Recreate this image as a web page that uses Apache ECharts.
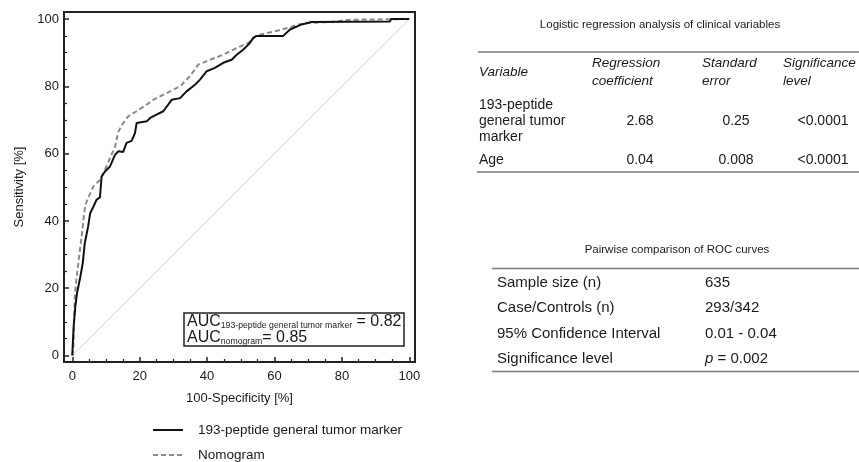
<!DOCTYPE html>
<html>
<head>
<meta charset="utf-8">
<script src="https://cdn.jsdelivr.net/npm/echarts@6/dist/echarts.min.js"></script>
<style>
  html, body { margin: 0; padding: 0; background: #fff; }
  #main { width: 859px; height: 462px; }
</style>
</head>
<body>
<div id="main"></div>
<script>
  // ROC 曲线数据 [100-Specificity, Sensitivity]
  const markerName = '193-peptide general tumor marker';
  const nomogramName = 'Nomogram';
  const markerCurve = [
    [0, 0], [0.3, 0], [0.4, 8.6], [0.9, 14.5], [1.4, 18.5], [2.4, 23.5], [3.1, 27.4],
    [3.7, 33.4], [4.7, 38.3], [5.3, 42.3], [6.3, 44.3], [7.2, 46.3], [8.2, 47], [8.7, 53.2],
    [9.7, 54.7], [11.2, 56.2], [12.7, 59.7], [13.7, 60.7], [15.1, 60.5], [16.1, 63.2],
    [17.6, 63.8], [18.6, 66.1], [19.1, 69.1], [22.1, 69.6], [23.1, 70.6], [25, 71.6],
    [27, 72.6], [29.5, 76], [32, 76.5], [33.9, 78.5], [36.4, 80.5], [37.9, 82], [39.9, 84.5],
    [42.3, 85.5], [44.8, 87], [47.3, 87.9], [48.8, 89.4], [50.7, 90.9], [52.7, 92.9],
    [53.7, 94.4], [54.7, 95], [62.6, 95], [64.6, 96.9], [68.1, 98.4], [71, 99.1],
    [94.3, 99.3], [94.6, 100], [100, 100]
  ];
  const nomogramCurve = [
    [0, 0], [0.3, 1.7], [0.7, 16.5], [1.1, 21.5], [1.9, 28.4], [2.9, 36.4], [3.4, 41.3],
    [3.9, 44.8], [4.5, 46.3], [6.2, 50.2], [8.2, 52.2], [9.7, 55.2], [11.2, 58.7],
    [12.7, 62.1], [13.7, 66.6], [15.1, 69.1], [16.6, 71.1], [19.1, 72.6], [22.1, 74.6],
    [24, 76], [28, 78], [32, 80], [34.9, 83], [37.4, 86.5], [40.9, 87.9], [44.8, 89.4],
    [48.8, 91.4], [52.2, 92.9], [54.7, 95.2], [59.6, 96.2], [64.1, 97.4], [67.1, 98.4],
    [70.5, 98.9], [76.5, 99.1], [82.4, 99.8], [100, 100]
  ];
  const diagonal = [[0, 0], [100, 100]];
  const majorTicks = [0, 20, 40, 60, 80, 100];
  const minorTicks = [5, 10, 15, 25, 30, 35, 45, 50, 55, 65, 70, 75, 85, 90, 95];
  const aucMarker = '0.82';
  const aucNomogram = '0.85';

  // 右侧表格
  const regressionTitle = 'Logistic regression analysis of clinical variables';
  const regressionHeader = ['Variable', 'Regression\ncoefficient', 'Standard\nerror', 'Significance\nlevel'];
  const regressionVariables = ['193-peptide\ngeneral tumor\nmarker', 'Age'];
  const regressionCoef = ['2.68', '0.04'];
  const regressionSE = ['0.25', '0.008'];
  const regressionSig = ['<0.0001', '<0.0001'];

  const pairwiseTitle = 'Pairwise comparison of ROC curves';
  const pairwiseLabels = ['Sample size (n)', 'Case/Controls (n)', '95% Confidence Interval', 'Significance level'];
  const pairwiseValues = ['635', '293/342', '0.01 - 0.04', '{i|p} = 0.002'];

  const font = 'Liberation Sans, Arial, sans-serif';
  const ink = '#1a1a1a';
  const rule = '#7a7a7a';

  function txt(x, y, text, opt) {
    opt = opt || {};
    return {
      type: 'text', x: x, y: y, z: 20,
      style: {
        text: text,
        fill: ink,
        fontFamily: font,
        fontSize: opt.size || 13,
        fontStyle: opt.italic ? 'italic' : 'normal',
        lineHeight: opt.lh || 16,
        align: opt.align || 'left', textAlign: opt.align || 'left',
        verticalAlign: 'middle', textVerticalAlign: 'middle',
        rich: opt.rich
      }
    };
  }
  function hline(x1, x2, y, color, width, dash) {
    return {
      type: 'line', z: 20,
      shape: { x1: x1, y1: y, x2: x2, y2: y },
      style: { stroke: color || rule, lineWidth: width || 1.6, lineDash: dash || null }
    };
  }

  let myChart = echarts.init(document.getElementById('main'), null, { renderer: 'canvas' });

  let graphics = [];
  // AUC 注释框
  graphics.push({
    type: 'group', x: 184, y: 313, z: 30,
    children: [
      { type: 'rect', shape: { x: 0, y: 0, width: 220, height: 33 },
        style: { fill: '#fff', stroke: '#222', lineWidth: 1.5 } },
      { type: 'text', x: 3, y: 1,
        style: {
          text: '{a|AUC}{s|193-peptide general tumor marker}{a| = ' + aucMarker + '}\n' +
                '{a|AUC}{s|nomogram}{a|= ' + aucNomogram + '}',
          fill: ink, fontFamily: font,
          rich: {
            a: { fontSize: 16, lineHeight: 16, fontFamily: font, fill: ink },
            s: { fontSize: 8.7, lineHeight: 9, verticalAlign: 'bottom', fontFamily: font, fill: ink }
          }
        } }
    ]
  });

  // 图例
  graphics.push(hline(153, 183, 430, '#111', 2));
  graphics.push(txt(198, 430, markerName, { size: 13.5 }));
  graphics.push(hline(153, 183, 455, '#8a8a8a', 2, [5, 3]));
  graphics.push(txt(198, 455, nomogramName, { size: 13.5 }));

  // 表 1
  graphics.push(txt(660, 25, regressionTitle, { size: 11.5, align: 'center' }));
  graphics.push(hline(478, 859, 52));
  const colX = [479, 592, 702, 783];
  regressionHeader.forEach(function (h, i) {
    graphics.push(txt(colX[i], 72.3, h, { size: 13.5, italic: true, lh: 17.7 }));
  });
  const rowY = [121, 160.5];
  regressionVariables.forEach(function (v, i) {
    graphics.push(txt(479, rowY[i], v, { size: 14, lh: 16.2 }));
    graphics.push(txt(640, rowY[i], regressionCoef[i], { size: 14, align: 'center' }));
    graphics.push(txt(736, rowY[i], regressionSE[i], { size: 14, align: 'center' }));
    graphics.push(txt(823, rowY[i], regressionSig[i], { size: 14, align: 'center' }));
  });
  graphics.push(hline(477, 859, 172));

  // 表 2
  graphics.push(txt(677, 250, pairwiseTitle, { size: 11.5, align: 'center' }));
  graphics.push(hline(492, 859, 268.5));
  const pairY = [283, 308, 333.5, 358.5];
  pairwiseLabels.forEach(function (l, i) {
    graphics.push(txt(497, pairY[i], l, { size: 15 }));
    graphics.push(txt(705, pairY[i], pairwiseValues[i], {
      size: 15,
      rich: { i: { fontStyle: 'italic', fontSize: 15, fontFamily: font, fill: ink } }
    }));
  });
  graphics.push(hline(492, 859, 371.5));

  const axisFont = { color: ink, fontFamily: font, fontSize: 13 };
  const xRange = { min: -2.46, max: 101.7 };
  const yRange = { min: -1.93, max: 102.1 };

  myChart.setOption({
    animation: false,
    backgroundColor: '#fff',
    grid: {
      left: 64,
      right: 444,
      top: 12,
      bottom: 100,
      show: true,
      borderColor: '#222',
      borderWidth: 2,
      containLabel: false
    },
    xAxis: [
      {
        type: 'value',
        position: 'bottom',
        min: xRange.min,
        max: xRange.max,
        name: '100-Specificity [%]',
        nameLocation: 'middle',
        nameGap: 30,
        nameTextStyle: axisFont,
        axisLine: { show: false, onZero: false },
        axisTick: { show: true, inside: true, length: 5, customValues: majorTicks,
          lineStyle: { color: '#222', width: 1.5 } },
        splitLine: { show: false },
        axisLabel: Object.assign({ margin: 8, customValues: majorTicks }, axisFont)
      },
      {
        type: 'value',
        position: 'bottom',
        min: xRange.min,
        max: xRange.max,
        axisLine: { show: false, onZero: false },
        axisTick: { show: true, inside: true, length: 3, customValues: minorTicks,
          lineStyle: { color: '#222', width: 1.2 } },
        splitLine: { show: false },
        axisLabel: { show: false }
      }
    ],
    yAxis: [
      {
        type: 'value',
        position: 'left',
        min: yRange.min,
        max: yRange.max,
        name: 'Sensitivity [%]',
        nameLocation: 'middle',
        nameGap: 38,
        nameTextStyle: axisFont,
        axisLine: { show: false, onZero: false },
        axisTick: { show: true, inside: true, length: 5, customValues: majorTicks,
          lineStyle: { color: '#222', width: 1.5 } },
        splitLine: { show: false },
        axisLabel: Object.assign({ margin: 5, customValues: majorTicks }, axisFont)
      },
      {
        type: 'value',
        position: 'left',
        min: yRange.min,
        max: yRange.max,
        axisLine: { show: false, onZero: false },
        axisTick: { show: true, inside: true, length: 3, customValues: minorTicks,
          lineStyle: { color: '#222', width: 1.2 } },
        splitLine: { show: false },
        axisLabel: { show: false }
      }
    ],
    series: [
      {
        name: 'reference',
        type: 'line',
        data: diagonal,
        symbol: 'none',
        silent: true,
        lineStyle: { color: '#d4d4d4', width: 1 },
        z: 1
      },
      {
        name: nomogramName,
        type: 'line',
        data: nomogramCurve,
        symbol: 'none',
        lineStyle: { color: '#8a8a8a', width: 2, type: [5, 3] },
        z: 2
      },
      {
        name: markerName,
        type: 'line',
        data: markerCurve,
        symbol: 'none',
        lineStyle: { color: '#111', width: 2 },
        z: 3
      }
    ],
    graphic: graphics
  });
  window.addEventListener('resize', myChart.resize);
</script>
</body>
</html>
